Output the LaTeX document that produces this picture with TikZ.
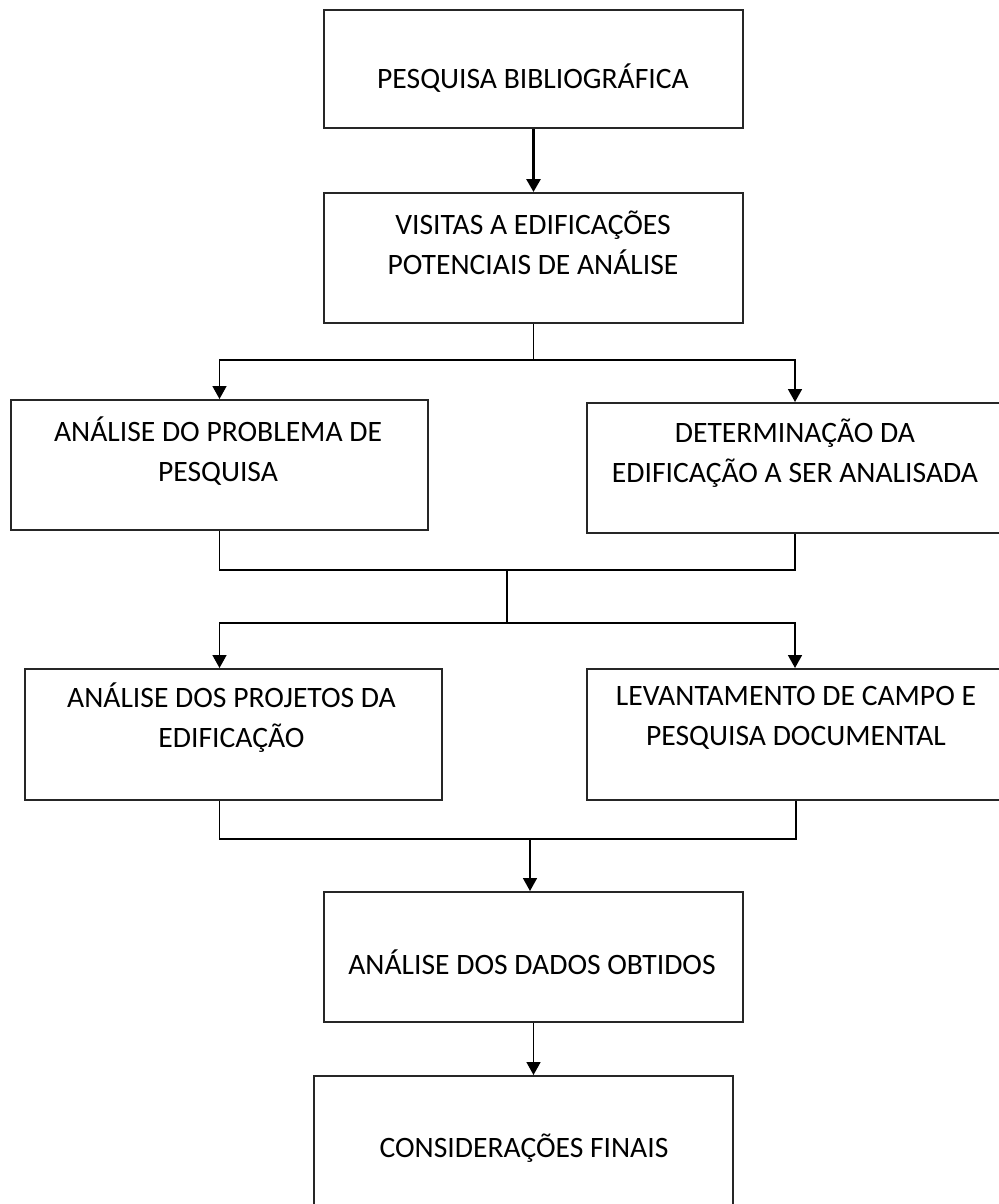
\documentclass[tikz,border=0pt]{standalone}
\usepackage{fontspec}
\setmainfont{Carlito}
\usetikzlibrary{arrows.meta}

\tikzset{
    caixa/.style={draw=black!85, line width=1pt, minimum width=209.5pt, minimum height=65pt, inner sep=0pt},
    texto/.style={align=center, font=\fontsize{14.8pt}{20pt}\selectfont, inner sep=0pt},
    seta/.style={line width=0.8pt, -{Triangle[width=7pt,length=6.5pt]}}
}

\begin{document}
\begin{tikzpicture}[x=0.5pt, y=-0.5pt]
        \useasboundingbox (0,0) rectangle (998,1204);
        % boxes
        \node[caixa, minimum height=59pt] (pesquisa) at (533.5, 69) {};
        \node[caixa] (visitas)  at (533.5, 258) {};
        \node[caixa, minimum width=208.5pt] (problema) at (219.5, 465) {};
        \node[caixa, minimum width=210pt] (determina) at (797, 468) {};
        \node[caixa, minimum width=208.5pt, minimum height=65.5pt] (projetos) at (233.5, 734.5) {};
        \node[caixa, minimum width=210pt, minimum height=65.5pt] (levanta) at (797, 734.5) {};
        \node[caixa] (dados)  at (533.5, 957) {};
        \node[caixa] (finais) at (523.5, 1141) {};
        % texts
        \node[texto] (tpesquisa) at (533, 78) {PESQUISA BIBLIOGRÁFICA};
        \node[texto] (tvisitas) at (533, 243) {VISITAS A EDIFICAÇÕES\\POTENCIAIS DE ANÁLISE};
        \node[texto] (tproblema) at (218, 451) {ANÁLISE DO PROBLEMA DE\\PESQUISA};
        \node[texto] (tdetermina) at (795, 453) {DETERMINAÇÃO DA\\EDIFICAÇÃO A SER ANALISADA};
        \node[texto] (tprojetos) at (231.5, 718) {ANÁLISE DOS PROJETOS DA\\EDIFICAÇÃO};
        \node[texto] (tlevanta) at (796, 718) {LEVANTAMENTO DE CAMPO E\\PESQUISA DOCUMENTAL};
        \node[texto] (tdados) at (532, 962) {ANÁLISE DOS DADOS OBTIDOS};
        \node[texto] (tfinais) at (524, 1148) {CONSIDERAÇÕES FINAIS};
        % junctions
        \coordinate (j1) at (533.5, 360);
        \coordinate (j2) at (507, 570);
        \coordinate (j3) at (507, 623);
        \coordinate (j4) at (530, 839);
        % connectors
        \draw[seta, line width=1.4pt] (pesquisa.south) -- (visitas.north);
        \draw[line width=0.8pt] (visitas.south) -- (j1);
        \draw[seta] (j1) -| (problema.north);
        \draw[seta] (j1) -| ([xshift=-1pt]determina.north);
        \draw[line width=0.8pt] (problema.south) |- (j2) -| ([xshift=-1pt]determina.south);
        \draw[line width=0.8pt] (j2) -- (j3);
        \draw[seta] (j3) -| (problema.south |- projetos.north);
        \draw[seta] (j3) -| ([xshift=-1pt]determina.south |- levanta.north);
        \draw[line width=0.8pt] (problema.south |- projetos.south) |- (j4) -| ([xshift=-0.5pt]levanta.south);
        \draw[seta] (j4) -- (j4 |- dados.north);
        \draw[seta] (dados.south) -- (dados.south |- finais.north);
\end{tikzpicture}
\end{document}
